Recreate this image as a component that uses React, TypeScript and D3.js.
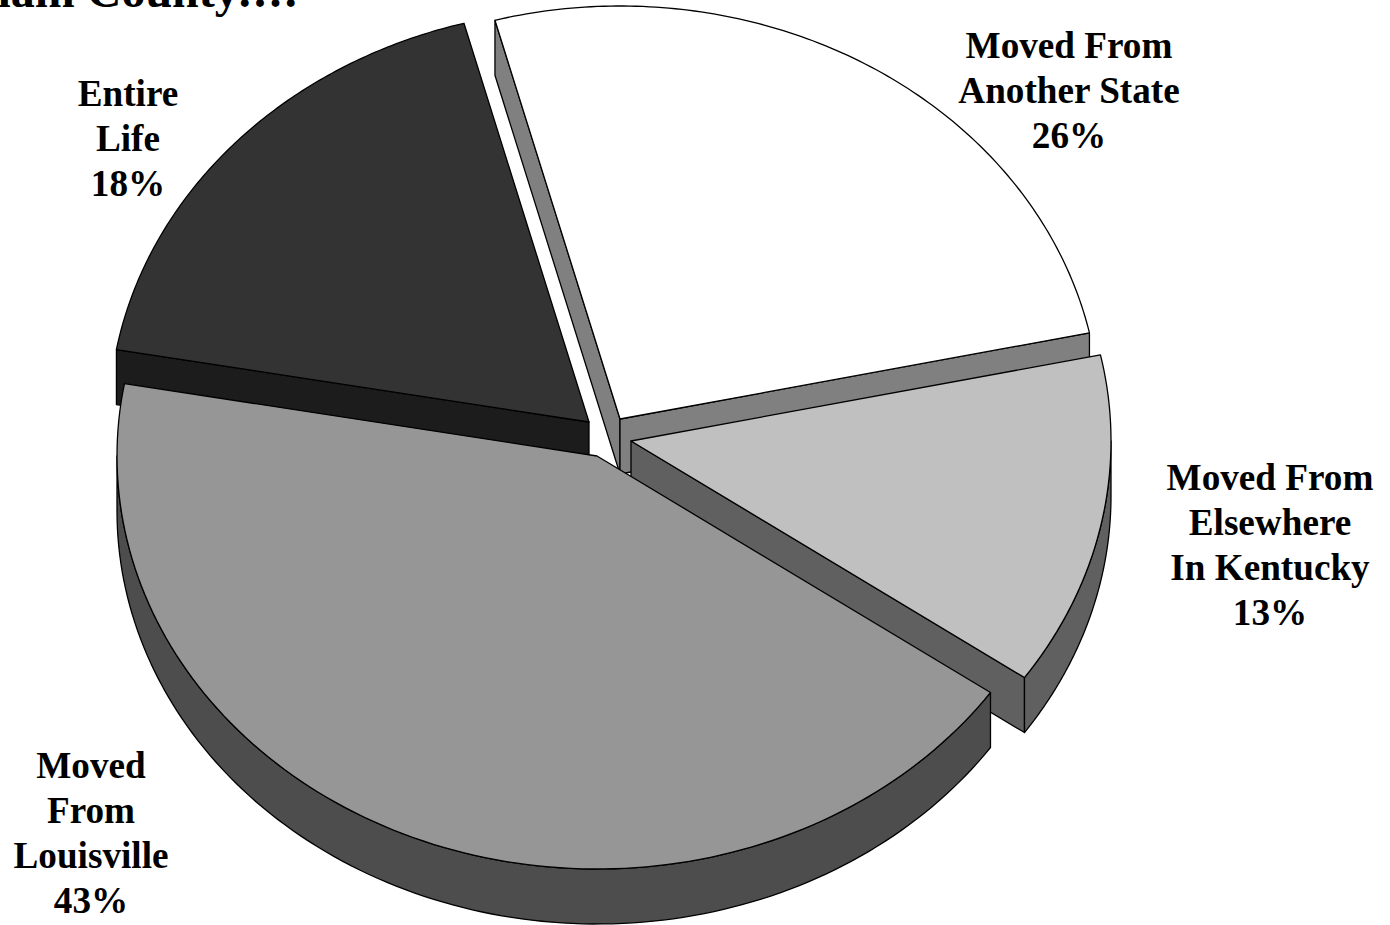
import React from "react";
import * as d3 from "d3";

// shares of the pie, clockwise from the white slice
const categories = ["Moved From Another State", "Moved From Elsewhere In Kentucky", "Moved From Louisville", "Entire Life"];
const shares = [25.85, 13.05, 43.1, 18];
const percentLabels = ["26%", "13%", "43%", "18%"];
const labelLines = [
  ["Moved From", "Another State", "26%"],
  ["Moved From", "Elsewhere", "In Kentucky", "13%"],
  ["Moved", "From", "Louisville", "43%"],
  ["Entire", "Life", "18%"],
];
const titleWords = "Oldham County";
const titleDots = "....";

// look of each slice
const topColors = ["#ffffff", "#c0c0c0", "#969696", "#333333"];
const wallColors = ["#808080", "#606060", "#4d4d4d", "#1c1c1c"];
const apexes = [[620, 419], [631, 441], [597, 456], [589, 422]];
const labelPos = [[1069, 58], [1270, 490], [91, 778], [128, 106]];
const drawOrder = [3, 0, 1, 2];

const rx = 480;
const ry = 413;
const depth = 55;
const startAngle = (-15.1 * Math.PI) / 180;

const pie = d3
  .pie<number>()
  .sort(null)
  .startAngle(startAngle)
  .endAngle(startAngle + 2 * Math.PI);
const slices = pie(shares);
const line = d3.line();

const App: React.FC = () => {
  // ellipse point for a clockwise-from-top angle
  const pt = (i: number, a: number, dy = 0): [number, number] => [
    apexes[i][0] + rx * Math.sin(a),
    apexes[i][1] - ry * Math.cos(a) + dy,
  ];
  const arcPts = (i: number, a0: number, a1: number, dy = 0) =>
    d3.range(0, 121).map((k) => pt(i, a0 + ((a1 - a0) * k) / 120, dy));

  const order = drawOrder.map((i) => {
    const s = slices[i];
    const ax = apexes[i][0];
    const ay = apexes[i][1];
    const apex: [number, number] = [ax, ay];
    const apexLow: [number, number] = [ax, ay + depth];
    // a cut face only shows when it turns towards the viewer
    const walls: [number, number][][] = [];
    if (Math.sin(s.startAngle) < 0) {
      walls.push([apex, pt(i, s.startAngle), pt(i, s.startAngle, depth), apexLow]);
    }
    if (Math.sin(s.endAngle) > 0) {
      walls.push([apex, pt(i, s.endAngle), pt(i, s.endAngle, depth), apexLow]);
    }
    // only the front half of the rim can be seen
    const frontA = Math.max(s.startAngle, Math.PI / 2);
    const frontB = Math.min(s.endAngle, (3 * Math.PI) / 2);
    const rim =
      frontB > frontA
        ? [...arcPts(i, frontA, frontB), ...arcPts(i, frontB, frontA, depth)]
        : null;
    const top = [apex, ...arcPts(i, s.startAngle, s.endAngle)];
    return { i, walls, rim, top };
  });

  return (
    <svg
      width={1390}
      height={925}
      style={{ position: "absolute", left: 0, top: 0, background: "#fff" }}
      fontFamily="'Liberation Serif'"
      fontWeight="bold"
    >
      <text x={300} y={7} fontSize={48} textAnchor="end" fill="#000">
        {titleWords}
        <tspan letterSpacing={3.3}>{titleDots}</tspan>
      </text>
      {order.map((o) => (
        <g key={categories[o.i]} stroke="#000" strokeWidth={1.3} strokeLinejoin="round">
          {o.walls.map((w, k) => (
            <path key={k} d={line(w) + "Z"} fill={wallColors[o.i]} />
          ))}
          {o.rim && <path d={line(o.rim) + "Z"} fill={wallColors[o.i]} />}
          <path d={line(o.top) + "Z"} fill={topColors[o.i]} />
        </g>
      ))}
      {labelLines.map((lines, i) => (
        <text
          key={percentLabels[i]}
          x={labelPos[i][0]}
          y={labelPos[i][1]}
          fontSize={37.2}
          textAnchor="middle"
          fill="#000"
        >
          {lines.map((t, k) => (
            <tspan key={k} x={labelPos[i][0]} dy={k === 0 ? 0 : 45}>
              {t}
            </tspan>
          ))}
        </text>
      ))}
    </svg>
  );
};

export default App;
